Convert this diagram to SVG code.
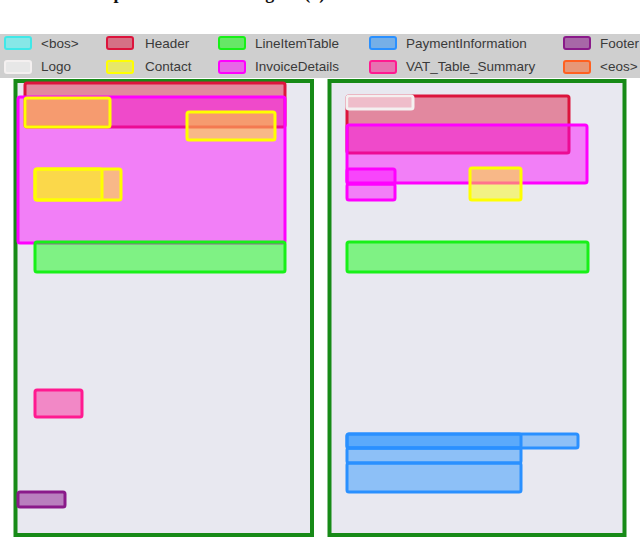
<svg xmlns="http://www.w3.org/2000/svg" width="640" height="540" viewBox="0 0 640 540">
<style>
.cap{font-family:"Liberation Serif",serif;font-weight:bold;font-size:18px;fill:#111}
.lg{font-family:"Liberation Sans",Arial,sans-serif;font-size:13.5px;fill:#3a3a3a}
.panel{fill:#e8e8f0;stroke:#178a17;stroke-width:4}
.b{stroke-width:3;fill-opacity:0.45;stroke-linejoin:round}
.sw{stroke-width:2;fill-opacity:0.5}
.bos{stroke:#40e8e8;fill:#40ffff}
.logo{stroke:#f4f0f0;fill:#ffffff}
.header{stroke:#dc143c;fill:#dc143c}
.contact{stroke:#ffff00;fill:#ffff00}
.line{stroke:#18f018;fill:#00ff00}
.inv{stroke:#ff00ff;fill:#ff00ff}
.pay{stroke:#2a90ff;fill:#1e90ff}
.vat{stroke:#ff1a90;fill:#ff1493}
.footer{stroke:#8a1a8a;fill:#800080}
.eos{stroke:#ff6020;fill:#ff6020}
</style>
<rect x="0" y="0" width="640" height="540" fill="#ffffff"/>
<text class="cap" x="-13" y="-1">Annotated examples similar to the figure (a) with real tables</text>

<g id="legend">
<rect x="0" y="34" width="640" height="44" fill="#cfcfcf"/>
<rect class="sw bos" x="5" y="37" width="26" height="12" rx="2"/><text class="lg" x="41" y="48">&lt;bos&gt;</text>
<rect class="sw header" x="107" y="37" width="26" height="12" rx="2"/><text class="lg" x="145" y="48">Header</text>
<rect class="sw line" x="219" y="37" width="26" height="12" rx="2"/><text class="lg" x="255" y="48">LineItemTable</text>
<rect class="sw pay" x="370" y="37" width="26" height="12" rx="2"/><text class="lg" x="406" y="48">PaymentInformation</text>
<rect class="sw footer" x="564" y="37" width="26" height="12" rx="2"/><text class="lg" x="600" y="48">Footer</text>
<rect class="sw logo" x="5" y="61" width="26" height="12" rx="2"/><text class="lg" x="41" y="71">Logo</text>
<rect class="sw contact" x="107" y="61" width="26" height="12" rx="2"/><text class="lg" x="145" y="71">Contact</text>
<rect class="sw inv" x="219" y="61" width="26" height="12" rx="2"/><text class="lg" x="255" y="71">InvoiceDetails</text>
<rect class="sw vat" x="370" y="61" width="26" height="12" rx="2"/><text class="lg" x="406" y="71">VAT_Table_Summary</text>
<rect class="sw eos" x="564" y="61" width="26" height="12" rx="2"/><text class="lg" x="600" y="71">&lt;eos&gt;</text>
</g>

<g id="left-page">
<rect class="panel" x="15.5" y="81" width="296.5" height="454"/>
<g id="l-header"><rect class="b header" x="25" y="83" width="260" height="44" rx="2"/></g>
<g id="l-invoice"><rect class="b inv" x="18" y="97" width="267" height="146" rx="2"/></g>
<g id="l-contact1"><rect class="b contact" x="25" y="98" width="85" height="29" rx="2"/></g>
<g id="l-contact2"><rect class="b contact" x="187" y="112" width="88" height="28" rx="2"/></g>
<g id="l-contact3"><rect class="b contact" x="35" y="169" width="86" height="31" rx="2"/></g>
<g id="l-contact4"><rect class="b contact" x="35" y="169" width="67" height="31" rx="2"/></g>
<g id="l-lineitem"><rect class="b line" x="35" y="242" width="250" height="30" rx="2"/></g>
<g id="l-vat"><rect class="b vat" x="35" y="390" width="47" height="27" rx="2"/></g>
<g id="l-footer"><rect class="b footer" x="18" y="492" width="47" height="15" rx="2"/></g>
</g>

<g id="right-page">
<rect class="panel" x="329.5" y="81" width="295" height="454"/>
<g id="r-header"><rect class="b header" x="347" y="96" width="222" height="57" rx="2"/></g>
<g id="r-logo"><rect class="b logo" x="347" y="96" width="66" height="13" rx="2"/></g>
<g id="r-invoice1"><rect class="b inv" x="347" y="125" width="240" height="58" rx="2"/></g>
<g id="r-invoice2"><rect class="b inv" x="347" y="169" width="48" height="15" rx="2"/></g>
<g id="r-invoice3"><rect class="b inv" x="347" y="184" width="48" height="16" rx="2"/></g>
<g id="r-contact"><rect class="b contact" x="470" y="168" width="51" height="32" rx="2"/></g>
<g id="r-lineitem"><rect class="b line" x="347" y="242" width="241" height="30" rx="2"/></g>
<g id="r-pay1"><rect class="b pay" x="347" y="434" width="231" height="14" rx="2"/></g>
<g id="r-pay2"><rect class="b pay" x="347" y="434" width="174" height="14" rx="2"/></g>
<g id="r-pay3"><rect class="b pay" x="347" y="448" width="174" height="15" rx="2"/></g>
<g id="r-pay4"><rect class="b pay" x="347" y="463" width="174" height="29" rx="2"/></g>
</g>
<g id="connectors"/>
</svg>
